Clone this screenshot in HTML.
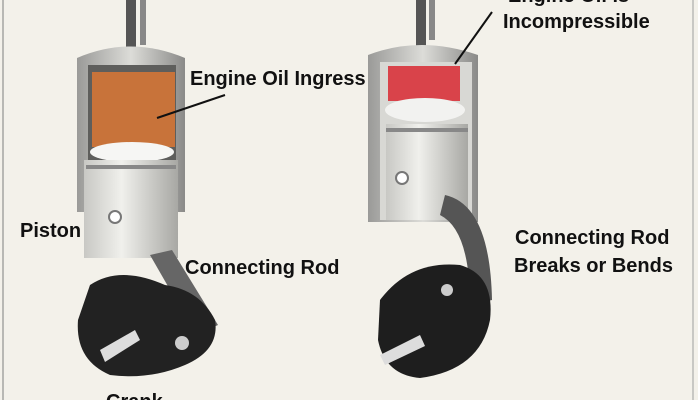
<!DOCTYPE html>
<html><head><style>
body{margin:0;width:698px;height:400px;overflow:hidden;background:#f3f1ea;}
svg{display:block}
text{font-family:"Liberation Sans",sans-serif;font-weight:bold;fill:#111;font-size:20px}
</style></head><body>
<svg width="698" height="400" viewBox="0 0 698 400">
<defs>
<linearGradient id="cyl" x1="0" x2="1"><stop offset="0" stop-color="#9a9a98"/><stop offset="0.5" stop-color="#dcdcd8"/><stop offset="1" stop-color="#8a8a88"/></linearGradient>
<linearGradient id="pis" x1="0" x2="1"><stop offset="0" stop-color="#c8c8c4"/><stop offset="0.4" stop-color="#f0f0ec"/><stop offset="1" stop-color="#a8a8a4"/></linearGradient>
</defs>
<rect x="2" y="0" width="2" height="400" fill="#b8b8b4"/>
<rect x="692" y="0" width="2" height="400" fill="#c8c8c4"/>
<!-- left engine -->
<rect x="126" y="0" width="10" height="60" fill="#555"/>
<rect x="140" y="0" width="6" height="45" fill="#888"/>
<path d="M77 58 Q130 35 185 58 L185 212 L77 212 Z" fill="url(#cyl)"/>
<rect x="88" y="65" width="88" height="145" fill="#5e5e5c"/>
<rect x="92" y="72" width="83" height="75" fill="#c8733a"/>
<ellipse cx="132" cy="152" rx="42" ry="10" fill="#f6f6f4"/>
<rect x="84" y="160" width="94" height="98" fill="url(#pis)"/>
<rect x="86" y="165" width="90" height="4" fill="#888"/>
<circle cx="115" cy="217" r="6" fill="#fff" stroke="#777" stroke-width="2"/>
<path d="M150 255 L172 250 L218 325 L196 335 Z" fill="#666"/>
<path d="M90 285 Q120 265 165 285 Q200 290 215 320 Q220 350 185 365 Q150 380 110 375 Q75 360 78 320 Z" fill="#222"/>
<path d="M100 350 L135 330 L140 340 L105 362 Z" fill="#ddd"/>
<circle cx="182" cy="343" r="7" fill="#ccc"/>
<line x1="157" y1="118" x2="225" y2="95" stroke="#111" stroke-width="2"/>
<text x="190" y="85">Engine Oil Ingress</text>
<text x="20" y="237">Piston</text>
<text x="185" y="274">Connecting Rod</text>
<text x="106" y="408">Crank</text>
<!-- right engine -->
<rect x="416" y="0" width="10" height="60" fill="#555"/>
<rect x="429" y="0" width="6" height="40" fill="#888"/>
<path d="M368 55 Q420 35 478 55 L478 222 L368 222 Z" fill="url(#cyl)"/>
<rect x="380" y="62" width="92" height="158" fill="#d8d8d4"/>
<rect x="388" y="66" width="72" height="35" fill="#d9434a"/>
<ellipse cx="425" cy="110" rx="40" ry="12" fill="#f2f2f0"/>
<rect x="386" y="124" width="82" height="96" fill="url(#pis)"/>
<rect x="386" y="128" width="82" height="4" fill="#888"/>
<circle cx="402" cy="178" r="6" fill="#fff" stroke="#777" stroke-width="2"/>
<path d="M445 195 Q490 205 492 300 L470 305 Q470 230 440 215 Z" fill="#555"/>
<path d="M380 300 Q410 260 460 265 Q495 275 490 320 Q480 370 420 378 Q385 375 378 340 Z" fill="#1e1e1e"/>
<path d="M380 355 L420 335 L425 346 L385 365 Z" fill="#ddd"/>
<circle cx="447" cy="290" r="6" fill="#ccc"/>
<line x1="492" y1="12" x2="455" y2="64" stroke="#111" stroke-width="2"/>
<text x="508" y="2">Engine Oil is</text>
<text x="503" y="28">Incompressible</text>
<text x="515" y="244">Connecting Rod</text>
<text x="514" y="272">Breaks or Bends</text>
</svg>
</body></html>
